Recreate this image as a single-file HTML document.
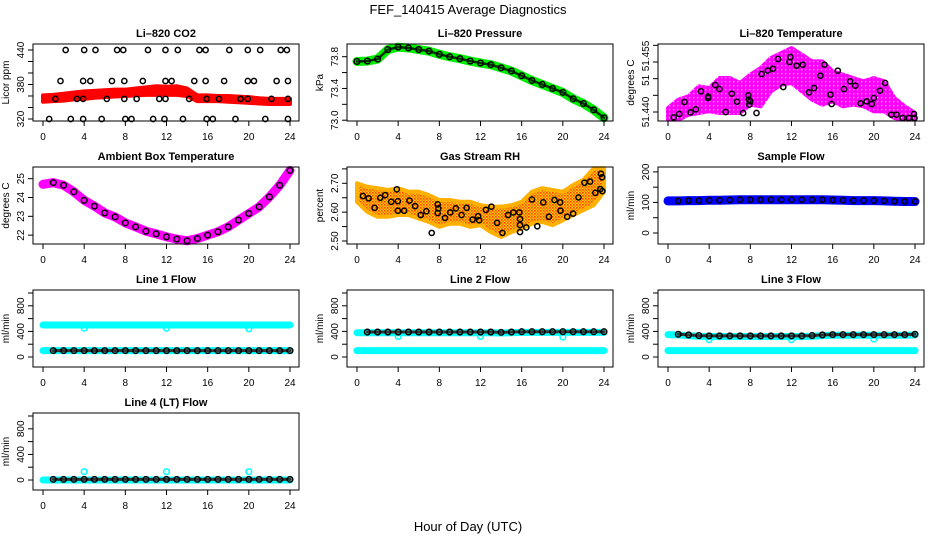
<!DOCTYPE html>
<html><head><meta charset="utf-8">
<style>
html,body{margin:0;padding:0;background:#fff;}
svg{display:block;font-family:"Liberation Sans",Arial,sans-serif;}
</style></head>
<body>
<svg id="fig" width="936" height="540" viewBox="0 0 936 540" xmlns="http://www.w3.org/2000/svg">
<defs>
<pattern id="rhpat" width="3" height="3" patternUnits="userSpaceOnUse">
<rect width="3" height="3" fill="#ffd800"/><rect x="0" y="0" width="1.6" height="1.6" fill="#ff3a00"/><rect x="1.5" y="1.5" width="1.5" height="1.5" fill="#ff6a00"/>
</pattern>
<pattern id="magpat" width="4" height="4" patternUnits="userSpaceOnUse">
<rect width="4" height="4" fill="#ff00ff"/><rect x="1" y="1" width="1.3" height="1.3" fill="#ffb0ff"/>
</pattern>
</defs>
<text x="468" y="14" text-anchor="middle" font-size="13">FEF_140415  Average Diagnostics</text>
<text x="468" y="531" text-anchor="middle" font-size="13">Hour of Day (UTC)</text>
</svg>
<script>
// ---------- data ----------
const hours = [0,1,2,3,4,5,6,7,8,9,10,11,12,13,14,15,16,17,18,19,20,21,22,23,24];
const xTicks = [0,4,8,12,16,20,24];

// Li-820 CO2
const co2Low  = [350,351,352,354,355,357,358,359,360,361,362,362,362,362,360,351,351,351,350,349,348,347,346,346,346];
const co2High = [361,362,364,366,368,369,370,371,371,373,375,377,376,377,373,361,361,360,360,359,358,356,355,355,355];
const co2H440 = [2.2,4.0,5.1,7.2,7.8,10.2,11.9,13.1,15.2,15.8,18.1,19.9,21.1,23.1,23.7];
const co2H386 = [1.7,3.9,4.6,6.7,7.9,9.7,11.9,12.5,14.7,15.8,17.6,19.9,20.5,22.7,23.8];
const co2H355 = [1.2,3.3,3.9,6.2,7.9,9.1,11.3,11.9,14.2,15.9,17.1,19.2,19.9,22.2,23.8];
const co2H320 = [0.6,2.7,3.9,5.7,8.0,8.6,10.7,11.8,13.6,15.9,16.5,18.7,21.6,23.8];

// Li-820 Pressure
const pres = [73.74,73.745,73.77,73.89,73.92,73.91,73.89,73.87,73.83,73.80,73.775,73.745,73.72,73.70,73.66,73.62,73.56,73.50,73.45,73.40,73.35,73.27,73.21,73.13,73.03];

// Li-820 Temperature
const tLow  = [51.4377,51.4377,51.4392,51.4397,51.4402,51.4397,51.4397,51.4397,51.4422,51.4417,51.4462,51.4482,51.4487,51.4462,51.4437,51.4422,51.4432,51.4417,51.4422,51.4417,51.4402,51.4402,51.4382,51.4377,51.4377];
const tHigh = [51.4412,51.4437,51.4447,51.4477,51.4472,51.4502,51.4502,51.4487,51.4512,51.4532,51.4562,51.4577,51.4592,51.4572,51.4552,51.4552,51.4522,51.4512,51.4502,51.4492,51.4502,51.4492,51.4442,51.4417,51.4397];
const tPtH = [0.55,1.1,1.6,2.2,2.7,3.2,3.9,3.9,4.6,5.0,5.6,6.2,6.7,7.3,7.8,7.85,7.9,8.0,8.6,9.1,9.7,10.2,10.7,11.2,11.8,11.9,12.5,13.1,13.7,14.2,14.8,15.2,15.8,15.9,16.5,17.1,17.7,18.2,18.7,19.3,19.8,20.0,20.6,21.1,21.7,22.2,22.8,23.4,23.9,23.95];
const tPtV = [51.4384,51.4394,51.4430,51.4399,51.4408,51.4462,51.4447,51.4442,51.4481,51.4469,51.4400,51.4455,51.4431,51.4397,51.4450,51.4437,51.4422,51.4432,51.4397,51.4514,51.4524,51.4530,51.4559,51.4475,51.4550,51.4565,51.4539,51.4542,51.4459,51.4472,51.4509,51.4542,51.4452,51.4424,51.4524,51.4469,51.4492,51.4479,51.4426,51.4432,51.4424,51.4442,51.4464,51.4487,51.4392,51.4392,51.4382,51.4382,51.4394,51.4382];

// Ambient Box Temperature
const amb = [24.70,24.79,24.65,24.30,23.85,23.54,23.18,22.97,22.65,22.44,22.21,22.07,21.91,21.79,21.70,21.82,22.00,22.18,22.44,22.80,23.15,23.50,24.03,24.65,25.44];

// Gas Stream RH
const rhLow  = [2.636,2.601,2.584,2.584,2.590,2.590,2.578,2.566,2.549,2.560,2.560,2.549,2.555,2.531,2.514,2.531,2.543,2.560,2.566,2.555,2.572,2.590,2.607,2.624,2.671];
const rhHigh = [2.700,2.688,2.683,2.677,2.683,2.671,2.671,2.659,2.642,2.642,2.636,2.636,2.624,2.619,2.619,2.624,2.636,2.671,2.683,2.677,2.671,2.694,2.712,2.752,2.752];
const rhPtH = [0.58,1.13,1.71,2.26,2.74,3.32,3.87,3.97,3.97,4.58,5.10,5.65,6.19,6.74,7.26,7.84,7.90,7.84,8.55,9.06,9.61,10.16,10.65,11.23,11.77,11.87,12.52,13.06,13.61,14.13,14.68,15.19,15.77,15.84,15.84,15.84,16.45,17.0,17.52,18.1,18.65,19.19,19.74,19.77,20.42,21.0,21.52,22.1,22.65,23.16,23.65,23.71,23.81,23.84];
const rhPtV = [2.656,2.648,2.615,2.650,2.659,2.636,2.679,2.638,2.605,2.605,2.640,2.621,2.590,2.603,2.528,2.627,2.613,2.597,2.580,2.599,2.613,2.590,2.615,2.574,2.586,2.572,2.608,2.619,2.563,2.528,2.590,2.599,2.599,2.576,2.555,2.531,2.547,2.644,2.551,2.634,2.584,2.642,2.634,2.605,2.584,2.595,2.651,2.702,2.706,2.667,2.680,2.733,2.721,2.673];

// Sample Flow
const sampleFlow = [105,105,106,106,107,107,108,109,109,109,109,109,109,109,109,109,108,107,106,106,106,105,104,103,103];

// Line flows
const line1Black = [100,100,100,100,100,100,100,100,100,100,100,100,100,100,100,100,100,100,100,100,100,100,100,100,100];
const line1Cyan  = [500,500,500,500,500,500,500,500,500,500,500,500,500,500,500,500,500,500,500,500,500,500,500,500,500];
const line2Black = [390,390,390,390,390,390,390,390,390,390,390,390,390,390,385,390,395,395,395,395,395,395,395,395,395];
const line2Cyan  = [380,380,380,380,380,380,380,380,380,380,380,380,380,380,375,380,385,385,385,385,385,385,385,385,385];
const line3Black = [360,355,345,335,330,330,330,330,330,330,330,330,330,330,335,345,350,350,350,350,350,350,350,350,355];
const line3Cyan  = [350,345,335,325,320,320,320,320,320,320,320,320,320,320,325,335,340,340,340,340,340,340,340,340,345];
const line4Black = [10,10,10,10,10,10,10,10,10,10,10,10,10,10,10,10,10,10,10,10,10,10,10,10,10];
const lowCyan = [100,100,100,0];            // cyan base level per line 1..4
const dipHours = [4,12,20];
const dipVals = [[450,450,440],[320,320,310],[270,270,280],[130,130,130]];

// ---------- layout helpers ----------
const svg = document.getElementById('fig');
const NS = 'http://www.w3.org/2000/svg';
const colX = [33,347,658], rowY = [44,167,290,413], W = 266, H = 77;

function mk(tag, attrs, parent){
  const e = document.createElementNS(NS, tag);
  for (const k in attrs) e.setAttribute(k, attrs[k]);
  (parent||svg).appendChild(e);
  return e;
}

function panel(col,row,title,ytitle,usr,yticks,ylabels,name){
  const g = mk('g',{});
  
  
  const L = colX[col], T = rowY[row];
  const sx = h => L + 10 + h*(247/24);
  const sy = v => T + (usr[1]-v)/(usr[1]-usr[0])*H;
  const plot = mk('g',{},g);
  
  
  const box = mk('rect',{x:L,y:T,width:W,height:H,fill:'none',stroke:'#000','stroke-width':1},g);
  
  
  const t = mk('text',{x:L+W/2,y:T-7,'text-anchor':'middle','font-size':11,'font-weight':'bold'},g);
  t.textContent = title;
  
  
  const xa = mk('g',{},g);
  
  
  mk('line',{x1:sx(0),x2:sx(24),y1:T+H,y2:T+H,stroke:'#000'},xa);
  xTicks.forEach(v=>{
    mk('line',{x1:sx(v),x2:sx(v),y1:T+H,y2:T+H+5,stroke:'#000'},xa);
    const tl = mk('text',{x:sx(v),y:T+H+19,'text-anchor':'middle','font-size':10},xa);
    tl.textContent = v;
    
    
  });
  const ya = mk('g',{},g);
  
  
  mk('line',{x1:L,x2:L,y1:sy(yticks[0]),y2:sy(yticks[yticks.length-1]),stroke:'#000'},ya);
  yticks.forEach(v=>mk('line',{x1:L-5,x2:L,y1:sy(v),y2:sy(v),stroke:'#000'},ya));
  ylabels.forEach(([v,s])=>{
    const yy = sy(v);
    const tl = mk('text',{x:L-9,y:yy,'text-anchor':'middle','font-size':10,transform:`rotate(-90 ${L-9} ${yy})`},ya);
    tl.textContent = s;
    
    
  });
  const yt = mk('text',{x:L-24,y:T+H/2,'text-anchor':'middle','font-size':10,transform:`rotate(-90 ${L-24} ${T+H/2})`},ya);
  yt.textContent = ytitle;
  
  
  return {plot,sx,sy};
}

function band(p,xs,lo,hi,fill,name){
  let d = 'M'+xs.map((h,i)=>p.sx(h)+','+p.sy(hi[i])).join(' L');
  d += ' L'+xs.map((h,i)=>[h,i]).reverse().map(([h,i])=>p.sx(h)+','+p.sy(lo[i])).join(' L')+' Z';
  const e = mk('path',{d,fill,stroke:fill==='url(#rhpat)'?'#ffb000':fill,'stroke-width':4,'stroke-linejoin':'round'},p.plot);
  
  
}
function thickLine(p,xs,vs,color,w,name){
  const e = mk('polyline',{points:xs.map((h,i)=>p.sx(h)+','+p.sy(vs[i])).join(' '),fill:'none',stroke:color,'stroke-width':w,'stroke-linejoin':'round','stroke-linecap':'round'},p.plot);
  
  
}
function pts(p,xs,vs,color,name,r){
  xs.forEach((h,i)=>{
    const c = mk('circle',{cx:p.sx(h),cy:p.sy(vs[i]),r:r||2.6,fill:'none',stroke:color,'stroke-width':1.5},p.plot);
    
    
  });
}
function constArr(n,v){ return new Array(n).fill(v); }

// ---------- panels ----------
let p;
p = panel(0,0,'Li\u2013820 CO2','Licor ppm',[316.5,450.4],[320,340,360,380,400,420,440],[[320,'320'],[380,'380'],[440,'440']],'co2');
band(p,hours,co2Low,co2High,'#ff0000','co2-band');
pts(p,co2H440,constArr(co2H440.length,440),'#000','co2-point');
pts(p,co2H386,constArr(co2H386.length,386),'#000','co2-point');
pts(p,co2H355,constArr(co2H355.length,355),'#000','co2-point');
pts(p,co2H320,constArr(co2H320.length,320),'#000','co2-point');

p = panel(1,0,'Li\u2013820 Pressure','kPa',[72.99,73.96],[73.0,73.2,73.4,73.6,73.8],[[73.0,'73.0'],[73.4,'73.4'],[73.8,'73.8']],'pressure');
thickLine(p,hours,pres,'#00ee00',9,'pressure-line');
thickLine(p,hours,pres,'#003300',2.5,'pressure-core');
pts(p,hours,pres,'#000','pressure-point',2.8);

p = panel(2,0,'Li\u2013820 Temperature','degrees C',[51.4373,51.4604],[51.440,51.445,51.450,51.455,51.460],[[51.440,'51.440'],[51.4495,'51'],[51.4568,'51.455']],'licor-temp');
band(p,hours,tLow,tHigh,'url(#magpat)','licor-temp-cloud');
pts(p,tPtH,tPtV,'#000','licor-temp-point');

p = panel(0,1,'Ambient Box Temperature','degrees C',[21.53,25.62],[22,23,24,25],[[22,'22'],[23,'23'],[24,'24'],[25,'25']],'ambient');
thickLine(p,hours,amb,'#ff00ff',9,'ambient-line');
pts(p,hours.slice(1),amb.slice(1),'#000','ambient-point',2.8);

p = panel(1,1,'Gas Stream RH','percent',[2.4896,2.7565],[2.50,2.55,2.60,2.65,2.70,2.75],[[2.50,'2.50'],[2.60,'2.60'],[2.70,'2.70']],'rh');
band(p,hours,rhLow,rhHigh,'url(#rhpat)','rh-cloud');
pts(p,rhPtH,rhPtV,'#000','rh-point');

p = panel(2,1,'Sample Flow','ml/min',[-36,216],[0,50,100,150,200],[[0,'0'],[100,'100'],[200,'200']],'sample-flow');
thickLine(p,hours,sampleFlow,'#0000ff',9,'sample-flow-line');
pts(p,hours.slice(1),sampleFlow.slice(1),'#000','sample-flow-point');

const flowTicks = [0,200,400,600,800,1000], flowLabels = [[0,'0'],[400,'400'],[800,'800']], flowUsr = [-156,1047];
const flowDefs = [
  [0,2,'Line 1 Flow',line1Black,line1Cyan,'line1'],
  [1,2,'Line 2 Flow',line2Black,line2Cyan,'line2'],
  [2,2,'Line 3 Flow',line3Black,line3Cyan,'line3'],
  [0,3,'Line 4 (LT) Flow',line4Black,null,'line4']
];
flowDefs.forEach(([c,r,title,blk,cyn,nm],k)=>{
  const q = panel(c,r,title,'ml/min',flowUsr,flowTicks,flowLabels,nm+'-flow');
  thickLine(q,hours,constArr(25,lowCyan[k]),'#00ffff',7,nm+'-cyan-low');
  if (cyn) thickLine(q,hours,cyn,'#00ffff',7,nm+'-cyan-line');
  pts(q,dipHours,dipVals[k],'#00ffff',nm+'-cyan-point',2.8);
  thickLine(q,hours.slice(1),blk.slice(1),'#333',3,nm+'-black-line');
  pts(q,hours.slice(1),blk.slice(1),'#000',nm+'-black-point',2.8);
});
</script>
</body></html>
